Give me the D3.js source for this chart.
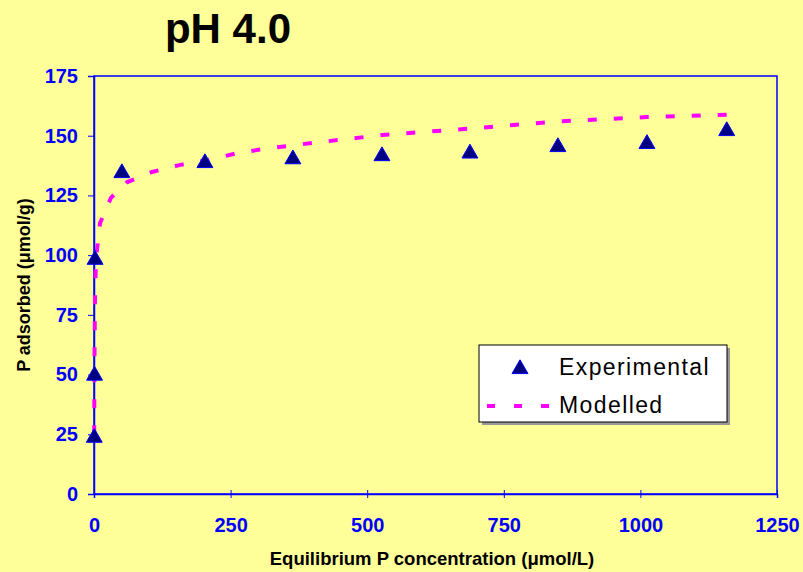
<!DOCTYPE html>
<html>
<head>
<meta charset="utf-8">
<script src="https://cdn.jsdelivr.net/npm/d3@7"></script>
<style>
  body { margin: 0; background: #FFFF99; }
  svg { display: block; font-family: Arial, "Liberation Sans", sans-serif; }
</style>
</head>
<body>
<div id="chart"></div>
<script>
// experimental points
var expX = [0.5, 1, 2, 51, 203, 364, 527, 688, 849, 1012, 1158];
var expY = [24, 50, 98.5, 134.8, 139, 140.6, 141.9, 143, 145.7, 147, 152.4];

// modelled curve
var modX = [0.3, 0.6, 1, 2, 4, 11, 31, 60, 106, 156, 212, 262, 310, 364, 527, 688, 849, 1012, 1158];
var modY = [25, 38, 60, 85, 99, 113.4, 124, 130.5, 134.8, 137.7, 140, 142.7, 144.4, 146, 150.3, 153, 156, 157.8, 158.8];

var xTicks = [0, 250, 500, 750, 1000, 1250];
var yTicks = [0, 25, 50, 75, 100, 125, 150, 175];

var W = 803, H = 572;
var margin = {top: 76, right: 26, bottom: 78, left: 94},
    width = W - margin.left - margin.right,
    height = H - margin.top - margin.bottom;

var svg = d3.select("#chart").append("svg")
    .attr("width", W)
    .attr("height", H);

svg.append("rect").attr("width", W).attr("height", H).attr("fill", "#FFFF99");

var x = d3.scaleLinear().domain([0, 1250]).range([0, width]);
var y = d3.scaleLinear().domain([0, 175]).range([height, 0]);

var g = svg.append("g")
    .attr("transform", "translate(" + margin.left + "," + margin.top + ")");

// plot frame
g.append("rect")
    .attr("width", width)
    .attr("height", height)
    .attr("fill", "none")
    .attr("stroke", "#0000FF")
    .attr("stroke-width", 1.5);

// y axis
var yAxis = g.append("g")
    .call(d3.axisLeft(y).tickValues(yTicks).tickSize(6).tickPadding(10).tickFormat(d3.format("d")));
// x axis, ticks cross the line
var xAxis = g.append("g")
    .attr("transform", "translate(0," + height + ")")
    .call(d3.axisBottom(x).tickValues(xTicks).tickSize(4).tickPadding(20).tickFormat(d3.format("d")));
xAxis.selectAll(".tick line").attr("y1", -4);

[xAxis, yAxis].forEach(function(a) {
    a.select(".domain").attr("stroke", "#0000FF").attr("stroke-width", 1.5);
    a.selectAll(".tick line").attr("stroke", "#0000FF").attr("stroke-width", 1);
    a.selectAll(".tick text")
        .attr("fill", "#0000FF")
        .style("font-size", "20px")
        .style("font-weight", "bold");
});

// modelled line
var modData = modX.map(function(d, i) { return [d, modY[i]]; });
g.append("path")
    .datum(modData)
    .attr("fill", "none")
    .attr("stroke", "#FF00FF")
    .attr("stroke-width", 4)
    .attr("stroke-dasharray", "9,17")
    .attr("d", d3.line()
        .x(function(d) { return x(d[0]); })
        .y(function(d) { return y(d[1]); }));

// experimental triangles
var tri = d3.symbol().type(d3.symbolTriangle).size(110);
var expData = expX.map(function(d, i) { return [d, expY[i]]; });
g.selectAll("path.exp")
    .data(expData)
    .enter().append("path")
    .attr("class", "exp")
    .attr("d", tri)
    .attr("transform", function(d) { return "translate(" + x(d[0]) + "," + (y(d[1]) + 1) + ")"; })
    .attr("fill", "#000080")
    .attr("stroke", "#0000FF")
    .attr("stroke-width", 1);

// title
svg.append("text")
    .attr("x", 228)
    .attr("y", 43)
    .attr("text-anchor", "middle")
    .style("font-size", "42px")
    .style("font-weight", "bold")
    .text("pH 4.0");

// axis titles
svg.append("text")
    .attr("x", 432)
    .attr("y", 565)
    .attr("text-anchor", "middle")
    .style("font-size", "18.5px")
    .style("font-weight", "bold")
    .text("Equilibrium P concentration (\u03bcmol/L)");

svg.append("text")
    .attr("transform", "translate(30,285) rotate(-90)")
    .attr("text-anchor", "middle")
    .style("font-size", "18px")
    .style("font-weight", "bold")
    .text("P adsorbed (\u03bcmol/g)");

// legend
var lg = svg.append("g").attr("transform", "translate(479,345)");
lg.append("rect").attr("x", 3).attr("y", 3).attr("width", 248).attr("height", 77).attr("fill", "#999999");
lg.append("rect").attr("width", 248).attr("height", 77).attr("fill", "#FFFFFF").attr("stroke", "#000000").attr("stroke-width", 1);
lg.append("path")
    .attr("d", tri)
    .attr("transform", "translate(41,24)")
    .attr("fill", "#000080")
    .attr("stroke", "#0000FF");
lg.append("line")
    .attr("x1", 8).attr("x2", 70).attr("y1", 61).attr("y2", 61)
    .attr("stroke", "#FF00FF")
    .attr("stroke-width", 4)
    .attr("stroke-dasharray", "8,19");
lg.append("text").attr("x", 80).attr("y", 30).style("font-size", "23px").style("letter-spacing", "1.4px").text("Experimental");
lg.append("text").attr("x", 80).attr("y", 68).style("font-size", "23px").style("letter-spacing", "1.4px").text("Modelled");
</script>
</body>
</html>
